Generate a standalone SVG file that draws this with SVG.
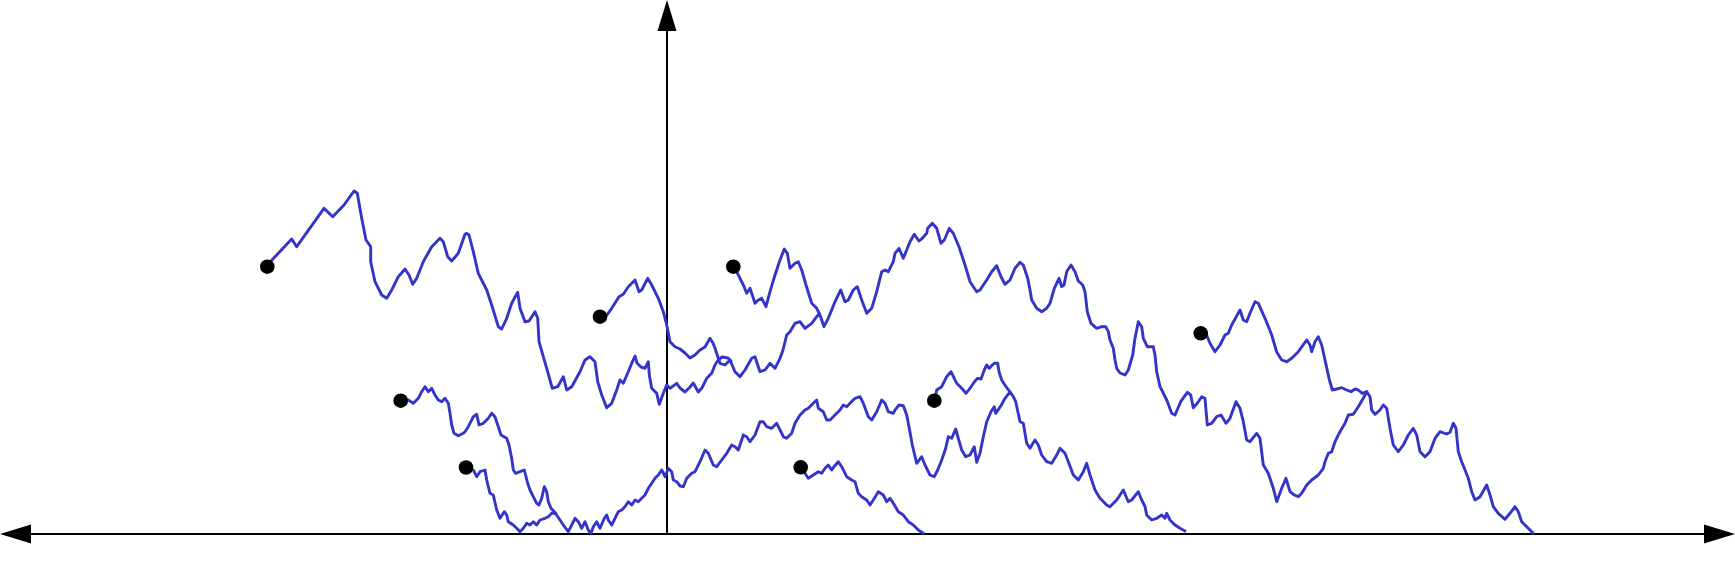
<svg xmlns="http://www.w3.org/2000/svg" width="1735" height="576" viewBox="0 0 1735 576">
<style>
.w{fill:none;stroke:#3434c8;stroke-width:2.9;stroke-linejoin:round;stroke-linecap:round}
.d{fill:#000}
.ax{stroke:#000;stroke-width:2;fill:none}
.ah{fill:#000}
</style>
<rect width="1735" height="576" fill="#fff"/>
<g id="axes">
<line class="ax" x1="28" y1="534" x2="1707" y2="534"/>
<polygon class="ah" points="0,534 31,524.5 31,543.5"/>
<polygon class="ah" points="1735,534 1704,524.5 1704,543.5"/>
<line class="ax" x1="667" y1="534" x2="667" y2="28"/>
<polygon class="ah" points="667,0 657.5,31 676.5,31"/>
</g>
<g id="connectors">
<polyline id="pathA" class="w" points="267.3,265 291.7,239 296.7,246.7 324,208.3 332.7,216.7 344,205 354,191 357.3,193.3 361.7,218.3 366,240 370.7,246.7 370.7,261.7 375,281.7 381.7,295 386.7,298.3 391.7,290 398.3,276.7 405,269 409,275 412.7,284.3 416.7,278.3 423.3,261.7 431.7,246.7 440,238.3 443.3,241.7 447.7,256.7 451.7,261 458.3,253.3 465,234.3 466.7,233.3 469,235 473.3,251.7 478.3,273.3 486.7,290 491.7,305 498.3,326.7 501.7,329 506.7,318.3 511.7,303.3 517.7,292.3 520,308.3 525,321.7 529,321 535,311.7 537.7,318.3 539,341.7 543.3,356.7 546.7,368.3 552.3,388.3 557.7,386.7 563.3,376.7 566.7,390 571.7,386.7 580,371.7 585,360 590,356.7 595,361.7 597.7,381.7 601.7,395 606.7,407.7 611.7,403.3 616.7,390 620,380 623.3,383.3 628.3,371.7 631.7,363.3 635,356 637,363 641,367 645,368.3 648.3,361.7 649.3,375 651.7,388.3 656.7,393.3 659.3,404.3 663.3,393.3 666.7,385 670,388.3 676.7,383.3 680,388 685,392 690,387 693.3,383 698.3,392 701.7,388.3 706.7,378.3 711.7,373.3 715,365 718.3,360 722,357 728,358 731,361"/>
<polyline id="pathD600" class="w" points="600,316.7 603.3,320 611.7,308.3 619,296.7 623.3,294.3 628.3,286.7 635,280 639,291.7 641.7,290 647.7,278.3 651.7,285 658.3,298.3 663.3,311.7 666.7,325 670,341.7 675,346.7 680,349 685,353 690,358 695,355 700,350 705,347 710,338.3 713,343 715,348.3 718.3,358.3 720,363.3 725,365 730,360 735,371.7 740,376.7 745,370 751.7,358.3 755,356.7 760,371.7 765,370 770,363.3 775,368.3 780,358.3 783,350 786.7,335 790,331.7 795,323.3 800,321.7 805,328.3 811.7,323.3 816.7,316.7 819,314"/>
<polyline id="pathC" class="w" points="733.3,266.7 735,268.3 743.3,285 746.7,293.3 750,288.3 755,303.3 758.3,300 761.7,298.3 766,306.7 770,291.7 775,275 780,260 784.3,249 787.3,253.3 790,268.3 795,263.3 798.3,261.7 801.7,270 806,285 811.7,303.3 816.7,308.3 820,315 824,326.7 828.3,318.3 835,301.7 840.7,290 845,301.7 848.3,300 853.3,290 857.3,286.7 861.7,300 866.7,313.3 871.7,308.3 876.7,291.7 881.7,271.7 885,270 888.3,271.7 893.3,261.7 895,253.3 899,248.3 903.3,258.3 910,241.7 914.3,234.3 919,241 922.3,238.3 926.7,233.3 927.7,228.3 932.3,223.3 936.7,228.3 941,243.3 944.3,240 949.3,228.3 953.3,233.3 959,246.7 965,265 970,281.7 976.7,291.7 980,290 986.7,280 991.7,271.7 996.7,265.7 1001,276.7 1005,284.3 1010,280 1015,268.3 1020,262.3 1023.3,265 1027.7,278.3 1030,290 1031.7,300 1036.7,308.3 1041.7,311.7 1046.7,308.3 1050,303.3 1054.3,288.3 1059,278.3 1061.7,286.7 1064,285 1066.7,271.7 1071,265 1075,271.7 1078.3,281 1082.7,285 1085,291.7 1087.3,311.7 1091,323.3 1096.7,328.3 1101.7,326.7 1105.7,326.7 1108.3,331.7 1110,340 1113.3,348.3 1115,360 1116.7,368.3 1120,373 1125,375 1128.3,370 1132.7,355 1135,338.3 1138.3,321.7 1141.7,326.7 1143.3,338.3 1147.3,346.7 1153.3,346.7 1155,355 1156.7,371.7 1160,386.7 1166.7,400 1171.7,413.3 1175,415 1180.7,401.7 1187.3,392.3 1190.7,395 1193.3,407.7 1197.3,403.3 1201.7,396.7 1205,398.3 1207.3,425 1211.7,423.3 1216.7,416.7 1221,415 1226,423.3 1230,418.3 1236,401.7 1240,408.3 1243.3,421.7 1246.7,440 1250,441.7 1256.7,433.3 1260,438.3 1263.3,465 1268.3,473.3 1273.3,488.3 1276.7,501.7 1281.7,488.3 1286,478.3 1290,491.7 1294.3,495 1298.3,496.7 1301.7,493.3 1306.7,485 1311.7,480 1318.3,475 1323.3,468.3 1325,461.7 1328.3,453.3 1331.7,451.7 1335,441.7 1340,431.7 1345,423.3 1348.3,415 1353.3,414.3 1358.3,406.7 1363.3,398.3 1366.7,391.7 1370,396.7 1371.7,410 1375,414.3 1380,410 1383.3,405 1386.7,408.3 1390,428.3 1393.3,445 1398.3,451.7 1403.3,445 1408.3,435 1413.3,428.3 1416.7,435 1420,451.7 1425,456.7 1430,451.7 1435,438.3 1440,431.7 1446.7,434 1450,432.3 1453.3,423.3 1456,428.3 1458.3,451.7 1461.7,461.7 1468.3,478.3 1471.7,491.7 1475,500 1480,496.7 1486.7,485 1490,495 1493.3,506.7 1498.3,513.3 1505,519.3 1510,513.3 1515,506.7 1518.3,511.7 1521.7,521.7 1526.7,526.7 1533.3,533.3"/>
<polyline id="pathD1200" class="w" points="1200.7,333.3 1203,330 1205,330 1207.3,336.7 1210,343.3 1215,351.7 1220,345 1225,335 1228.3,333.3 1231.7,325 1240,310 1243.3,320 1246.7,321.7 1250,313.3 1255,301.7 1258.3,303.3 1265,318.3 1271.7,335 1276.7,352 1281.7,360 1286.7,361.7 1291.7,358.3 1298.3,351.7 1306.7,340 1310,345 1311.7,351.7 1315,341.7 1318.3,336.7 1321.7,345 1325,360 1329,378.3 1332.3,390 1336.7,389 1341.7,387.7 1346.7,390 1351,391.7 1355,389 1358.3,390 1362.3,393.3 1366.7,391.7"/>
<polyline id="pathB" class="w" points="400.7,400.7 403.3,401.7 408.3,400 413.3,403.3 418.3,398.3 421.7,391.7 425,386.7 428.3,391.7 431.7,388.3 435,395 438.3,400 441.7,401.7 445,398.3 448.3,403.3 450,413.3 451.7,425 454,433.3 458.3,435.7 463.3,433.3 465,431.7 468.3,426.7 473.3,416.7 476.7,414.3 479,425 483.3,423.3 488.3,418.3 491.7,413.3 495,416.7 498.3,426.7 501,435 506.7,438.3 509,445 511.7,458.3 513.3,470 515.7,473.3 520,471.7 524.3,470 527.7,483.3 530,490 533.3,496.7 536.7,503.3 539,505 541.7,498.3 544.3,486.7 546.7,491.7 548.3,501.7 551,508.3 554.3,511.7 560,520 563.3,525 568.3,531.7 571.7,525 575,518.3 578.3,521.7 581.7,528.3 585,521.7 588.3,530 591,533.3 593.3,526.7 596.7,521.7 600,528.3 604.3,518.3 606.7,515 608.3,520 611.7,525 615,518.3 618.3,511.7 621.7,510 625,506.7 628.3,501.7 631.7,505 635,500 638.3,501.7 641.7,498.3 645,495 648.3,488.3 651.7,483.3 655,478.3 658.3,475 661.7,470 665,476.7 668.3,468.3 671.7,471.7 673.3,480 676.7,481.7 680,486 683.3,486.7 686.7,478.3 691.7,473.3 695,471.7 700,461.7 705,450 708.3,453.3 713.3,465 716.7,466.7 721.7,460 726.7,453.3 731.7,445 735,446.7 738.3,450 743.3,435 746.7,436.7 750,441.7 755,435 760,421.7 763.3,421.7 766.7,426.7 771.7,428.3 776.7,423.3 779.3,428.3 783.3,436.7 786.7,438.3 791.7,433.3 795,423.3 800,415 805,410 808.3,408.3 813.3,403.3 816.7,400 818.3,408.3 823.3,411.7 826.7,420 830,420 835,415 840,410 843.3,405 846.7,406.7 850,403.3 855,398.3 860,396.7 863.3,403.3 868.3,416.7 871.7,420 876.7,411.7 881.7,400 885,403.3 888.3,411.7 893.3,413.3 895,410 899,405 903.3,405.7 906.7,415 909,426.7 912.3,445 916.7,463.3 921.7,456.7 925,465 930,475 934.3,476.7 937.7,470 941.7,460 945.7,448.3 948.3,436.7 951.7,438.3 955.7,429 958.3,438.3 961.7,450 965.7,456.7 970,455 974.3,446.7 976.7,462.3 980,453.3 983.3,436.7 986.7,421.7 991,411.7 994.3,406.7 995.7,413.3 1001,405.7 1005,398.3 1010,392 1013.3,396.7 1015.7,401.7 1020,421.7 1023.3,423.3 1026.7,443.3 1030,448.3 1035,440 1038.3,445 1041.7,455 1046.7,461.7 1051.7,463.3 1056.7,455 1060,448.3 1065,453.3 1068.3,461.7 1073.3,475 1078.3,480 1083.3,471.7 1086.7,463.3 1090,475 1095,490 1100,498.3 1106.7,505 1110,506.7 1116.7,500 1123.3,490 1128.3,501.7 1131.7,500 1138.3,491.7 1141.7,500 1145,506.7 1146.7,515 1151.7,520 1156.7,518.3 1161.7,515 1165,518.3 1166.7,513.3 1170,520 1175,525 1180,528.3 1185,531"/>
<polyline id="pathD466" class="w" points="466,467.5 468.3,468.3 473.3,470 476.7,476.7 480,471.7 485,470 486.7,480 490,493.3 493.3,495 496.7,510 500,518.3 504.3,511.7 506.7,515 508.3,521.7 513.3,525 516.7,528.3 520,531.7 523.3,528.3 526.7,523.3 530,525 533.3,521.7 536.7,525 540,520 545,518.3 548.3,516.7 551.7,513.3 555.7,513.3"/>
<polyline id="pathD934" class="w" points="934.3,400.7 936.7,390 941.7,386.7 946.7,376.7 951,371.7 954.3,378.3 956.7,383.3 961.7,388.3 966,393.3 970,388.3 975,381 977.7,378.3 981,379 984.3,370 986.7,365 989.3,368.3 992.3,365 994.3,363.3 997.7,363.3 999,371.7 1001.7,380 1006,386.7 1010,392"/>
<polyline id="pathD801" class="w" points="800.7,467.3 805,473.3 808.3,478.3 813.3,475 818.3,471.7 821.7,473.3 825,468.3 828.3,465 831.7,470 834,466.7 838.3,461.7 841.7,466.7 846.7,476.7 851.7,480 855,481.7 858.3,493.3 861.7,496.7 866.7,500 870,505 873.3,500 878.3,491.7 883.3,495 886.7,501.7 890,498.3 893.3,503.3 895,506 898.3,511.7 903.3,515 908.3,521.7 913.3,525 918.3,530 923.3,533.3"/>
</g>
<g id="node1"><circle class="d" cx="267.3" cy="266.7" r="7.3"/></g>
<g id="node2"><circle class="d" cx="400.7" cy="400.7" r="7.3"/></g>
<g id="node3"><circle class="d" cx="466" cy="467.5" r="7.3"/></g>
<g id="node4"><circle class="d" cx="600" cy="316.7" r="7.3"/></g>
<g id="node5"><circle class="d" cx="733.3" cy="266.7" r="7.3"/></g>
<g id="node6"><circle class="d" cx="800.7" cy="467.3" r="7.3"/></g>
<g id="node7"><circle class="d" cx="934.3" cy="400.7" r="7.3"/></g>
<g id="node8"><circle class="d" cx="1200.7" cy="333.3" r="7.3"/></g>
</svg>
